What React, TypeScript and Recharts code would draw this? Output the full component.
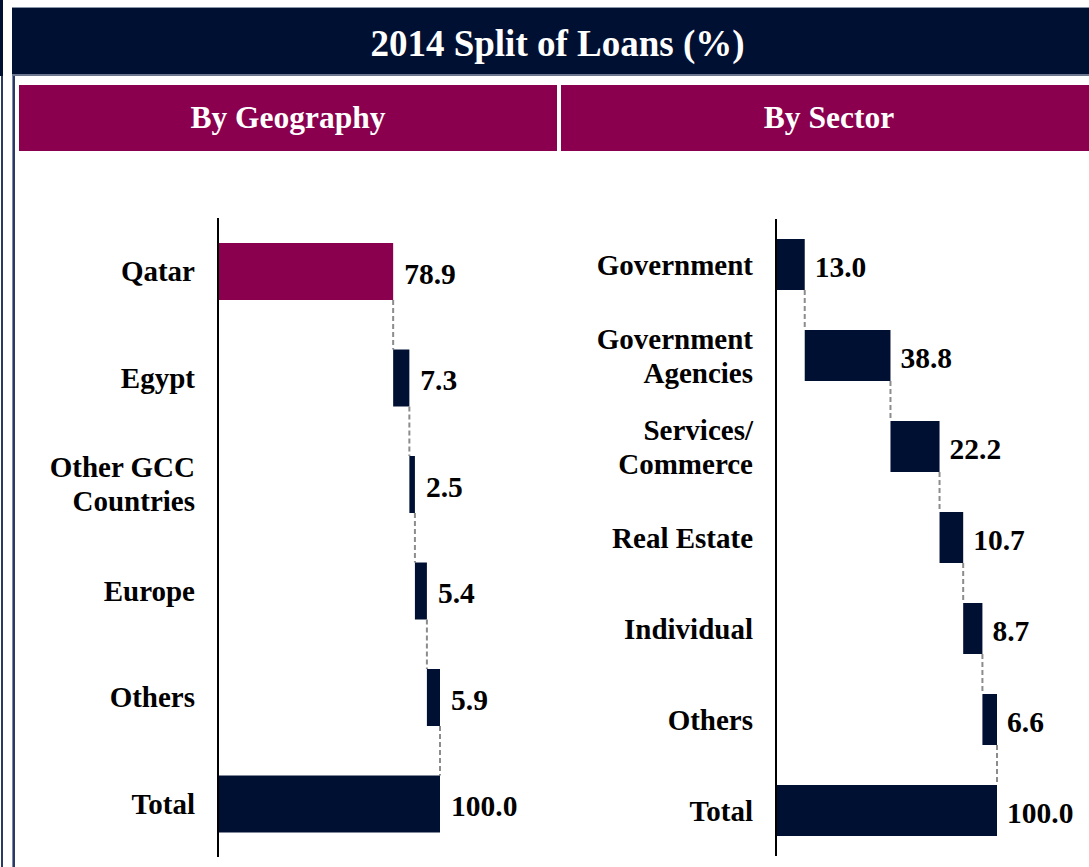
import React from "react";
import { BarChart, Bar, XAxis, YAxis, LabelList } from "recharts";

const titleText = "2014 Split of Loans (%)";
const geoTitle = "By Geography";
const sectorTitle = "By Sector";

const geoCategories = ["Qatar", "Egypt", "Other GCC\nCountries", "Europe", "Others", "Total"];
const geoValues = [78.9, 7.3, 2.5, 5.4, 5.9, 100.0];

const sectorCategories = [
  "Government",
  "Government\nAgencies",
  "Services/\nCommerce",
  "Real Estate",
  "Individual",
  "Others",
  "Total",
];
const sectorValues = [13.0, 38.8, 22.2, 10.7, 8.7, 6.6, 100.0];

const highlightGeo = "Qatar";

const NAVY = "#001033";
const MAGENTA = "#8A004F";
const FONT = "'Liberation Serif', 'Times New Roman', serif";

function buildData(cats: string[], vals: number[]) {
  let cum = 0;
  return cats.map((c, i) => {
    const isTotal = i === cats.length - 1;
    const base = isTotal ? 0 : cum;
    if (!isTotal) cum += vals[i];
    return { name: c, base, value: vals[i] };
  });
}

const geoData = buildData(geoCategories, geoValues);
const sectorData = buildData(sectorCategories, sectorValues);

function makeTick(lineHeight: number) {
  return (props: any) => {
    const { x, y, payload } = props;
    const lines = String(payload.value).split("\n");
    const start = -((lines.length - 1) * lineHeight) / 2;
    return (
      <text
        x={x}
        y={y}
        textAnchor="end"
        fill="#000"
        fontFamily={FONT}
        fontWeight="bold"
        fontSize={29}
      >
        {lines.map((l, i) => (
          <tspan key={i} x={x} dy={i === 0 ? start : lineHeight} dominantBaseline="central">
            {l}
          </tspan>
        ))}
      </text>
    );
  };
}

function makeShape(n: number, gap: number, highlight?: string) {
  return (props: any) => {
    const { x, y, width, height, index, payload } = props;
    const fill = highlight && payload && payload.name === highlight ? MAGENTA : NAVY;
    const ex = x + width;
    return (
      <g>
        <rect x={x} y={y} width={width} height={height} fill={fill} />
        {index < n - 1 && (
          <line
            x1={ex}
            x2={ex}
            y1={y + height}
            y2={y + height + gap}
            stroke="#8c8c8c"
            strokeWidth={2}
            strokeDasharray="5 3"
          />
        )}
      </g>
    );
  };
}

function makeLabel(offset: number) {
  return (p: any) => {
    const { x, y, width, height, value } = p;
    return (
      <text
        x={x + width + offset}
        y={y + height / 2 + 2}
        fill="#000"
        fontFamily={FONT}
        fontWeight="bold"
        fontSize={29.5}
        dominantBaseline="central"
      >
        {Number(value).toFixed(1)}
      </text>
    );
  };
}

function Waterfall(props: {
  data: any[];
  width: number;
  height: number;
  axisWidth: number;
  plotWidth: number;
  barSize: number;
  highlight?: string;
  labelOffset: number;
}) {
  const { data, width, height, axisWidth, plotWidth, barSize, highlight, labelOffset } = props;
  const n = data.length;
  const band = height / n;
  const gap = band - barSize;
  return (
    <BarChart
      width={width}
      height={height}
      data={data}
      layout="vertical"
      margin={{ top: 0, bottom: 0, left: 0, right: width - axisWidth - plotWidth }}
      barCategoryGap={0}
    >
      <XAxis type="number" domain={[0, 100]} hide />
      <YAxis
        type="category"
        dataKey="name"
        width={axisWidth}
        axisLine={{ stroke: "#000", strokeWidth: 2 }}
        tickLine={false}
        tick={makeTick(34)}
        tickMargin={17}
        interval={0}
      />
      <Bar dataKey="base" stackId="a" fill="transparent" isAnimationActive={false} barSize={barSize} />
      <Bar
        dataKey="value"
        stackId="a"
        barSize={barSize}
        isAnimationActive={false}
        shape={makeShape(n, gap, highlight)}
      >
        <LabelList dataKey="value" content={makeLabel(labelOffset)} />
      </Bar>
    </BarChart>
  );
}

export default function App() {
  return (
    <div
      style={{
        position: "absolute",
        left: 0,
        top: 0,
        width: 1089,
        height: 867,
        background: "#fff",
        overflow: "hidden",
        fontFamily: FONT,
      }}
    >
      {/* left edge decorations */}
      <div style={{ position: "absolute", left: 0, top: 0, width: 3, height: 76, background: NAVY }} />
      <div style={{ position: "absolute", left: 1, top: 76, width: 2, height: 791, background: "#2a3a64" }} />
      <div style={{ position: "absolute", left: 12, top: 7, width: 1, height: 860, background: "#7d88a6" }} />
      <div style={{ position: "absolute", left: 13, top: 76, width: 2, height: 791, background: "#2a3a64" }} />

      {/* title */}
      <div
        style={{
          position: "absolute",
          left: 12,
          top: 7,
          width: 1077,
          height: 69,
          background: NAVY,
          borderTop: "1px solid #8a94a8",
          borderBottom: "2px solid #6d7890",
          boxSizing: "border-box",
          color: "#fff",
          fontWeight: "bold",
          fontSize: 37,
          display: "flex",
          alignItems: "center",
          justifyContent: "center",
          paddingLeft: 14,
          paddingTop: 5,
        }}
      >
        {titleText}
      </div>

      {/* sub headers */}
      <div
        style={{
          position: "absolute",
          left: 19,
          top: 85,
          width: 538,
          height: 66,
          background: MAGENTA,
          color: "#fff",
          fontWeight: "bold",
          fontSize: 31.5,
          display: "flex",
          alignItems: "center",
          justifyContent: "center",
        }}
      >
        {geoTitle}
      </div>
      <div
        style={{
          position: "absolute",
          left: 561,
          top: 85,
          width: 528,
          height: 66,
          background: MAGENTA,
          color: "#fff",
          fontWeight: "bold",
          fontSize: 31.5,
          display: "flex",
          alignItems: "center",
          justifyContent: "center",
          paddingLeft: 8,
          boxSizing: "border-box",
        }}
      >
        {sectorTitle}
      </div>

      {/* charts */}
      <div style={{ position: "absolute", left: 18, top: 218 }}>
        <Waterfall
          data={geoData}
          width={520}
          height={639}
          axisWidth={200}
          plotWidth={222}
          barSize={57}
          highlight={highlightGeo}
          labelOffset={11}
        />
      </div>
      <div style={{ position: "absolute", left: 561, top: 219 }}>
        <Waterfall
          data={sectorData}
          width={528}
          height={637}
          axisWidth={215}
          plotWidth={221}
          barSize={51}
          labelOffset={10}
        />
      </div>
    </div>
  );
}
